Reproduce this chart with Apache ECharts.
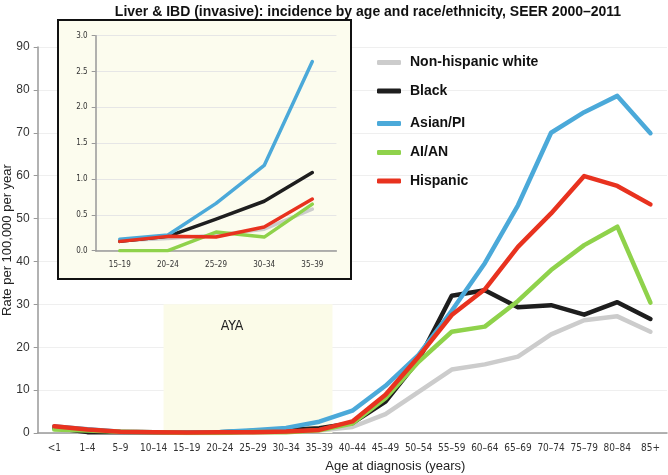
<!DOCTYPE html>
<html><head><meta charset="utf-8">
<script src="https://cdn.jsdelivr.net/npm/echarts@6/dist/echarts.min.js"></script>
<style>html,body{margin:0;padding:0;background:#fff}#c{width:668px;height:475px}</style>
</head><body><div id="c"></div>
<script>
var categories = ['<1','1–4','5–9','10–14','15–19','20–24','25–29','30–34','35–39','40–44','45–49','50–54','55–59','60–64','65–69','70–74','75–79','80–84','85+'];
var seriesNames = ['Non-hispanic white','Black','Asian/PI','AI/AN','Hispanic'];
var white    = [1.0, 0.5, 0.3, 0.2, 0.14, 0.17, 0.22, 0.30, 0.58, 1.4, 4.4, 9.6, 14.8, 16.0, 17.8, 23.0, 26.3, 27.2, 23.6];
var black    = [1.2, 0.2, 0.15, 0.15, 0.13, 0.20, 0.44, 0.69, 1.09, 2.3, 7.3, 17.0, 32.0, 33.3, 29.3, 29.8, 27.6, 30.5, 26.6];
var asian    = [1.5, 0.9, 0.3, 0.2, 0.16, 0.22, 0.66, 1.19, 2.64, 5.2, 11.0, 18.2, 28.5, 39.6, 53.1, 70.0, 74.8, 78.6, 69.9];
var aian     = [0.8, 0.6, 0.3, 0.15, 0.0, 0.0, 0.26, 0.19, 0.65, 2.2, 8.1, 16.6, 23.6, 24.8, 30.8, 38.0, 43.8, 48.1, 30.4];
var hispanic = [1.6, 0.8, 0.3, 0.2, 0.13, 0.20, 0.19, 0.33, 0.72, 2.7, 8.9, 17.8, 27.5, 33.5, 43.4, 51.2, 59.9, 57.6, 53.3];
var mainTicks = [0,10,20,30,40,50,60,70,80,90];
var insetTicks = [0.0,0.5,1.0,1.5,2.0,2.5,3.0];
var ayaStart = 4, ayaEnd = 9; // inset categories: 15–19 .. 35–39
var ayaBand = [3.8, 8.9, 30]; // band extent on band-index scale, and top value
var insetCats = categories.slice(ayaStart, ayaEnd);

var colors = ['#cccccc','#1e1e1e','#4ba9d9','#8fd24b','#e8321f'];
var allData = [white, black, asian, aian, hispanic];
var condensed = '"Liberation Sans Narrow","DejaVu Sans Condensed",Arial,sans-serif';

var series = [];
allData.forEach(function(d, i){
  series.push({name: seriesNames[i], type:'line', xAxisIndex:0, yAxisIndex:0, data:d,
    showSymbol:false, symbol:'none', lineStyle:{color:colors[i], width:4.5, cap:'round', join:'round'},
    itemStyle:{color:colors[i]}, z:3+i, animation:false});
});
allData.forEach(function(d, i){
  series.push({name: seriesNames[i], type:'line', xAxisIndex:1, yAxisIndex:1, data:d.slice(ayaStart, ayaEnd),
    showSymbol:false, symbol:'none', lineStyle:{color:colors[i], width:3.5, cap:'round', join:'round'},
    itemStyle:{color:colors[i]}, z:20+i, animation:false});
});
series.push({type:'line', xAxisIndex:2, yAxisIndex:0, data:[], silent:true,
  markArea:{silent:true, itemStyle:{color:'#fbfbe8'},
    label:{show:true, position:'insideTop', offset:[-16,10], formatter:'AYA', fontFamily:condensed, fontSize:14, color:'#222'},
    data:[[{xAxis:ayaBand[0], yAxis:0},{xAxis:ayaBand[1], yAxis:ayaBand[2]}]]}, z:1});

var legendTops = [63.5, 92, 124.5, 153.5, 182];
var legends = seriesNames.map(function(n, i){
  return {data:[n], left:377, top:legendTops[i]-8, padding:0, icon:'roundRect', itemWidth:24, itemHeight:5,
    textStyle:{fontFamily:'Liberation Sans,Arial,sans-serif', fontWeight:'bold', fontSize:14, color:'#111', padding:[0,0,0,4]},
    selectedMode:false};
});

var chart = echarts.init(document.getElementById('c'), null, {renderer:'canvas'});
chart.setOption({
  animation:false,
  title:{text:'Liver & IBD (invasive): incidence by age and race/ethnicity, SEER 2000–2011', left:363, textAlign:'center', top:0,
    textStyle:{fontFamily:'Liberation Sans,Arial,sans-serif', fontWeight:'bold', fontSize:14, color:'#111'}},
  legend: legends,
  graphic:[{type:'rect', shape:{x:58, y:20, width:293, height:259}, style:{fill:'#fcfcee', stroke:'#111', lineWidth:2}, z:1}],
  grid:[{left:37.7, right:1, top:47, bottom:42, outerBoundsMode:'none', containLabel:false},
        {left:95.7, right:668-336.4, top:35.7, bottom:475-250.7, z:3, outerBoundsMode:'none', containLabel:false}],
  xAxis:[
    {type:'category', gridIndex:0, data:categories, boundaryGap:true,
     axisLine:{lineStyle:{color:'#999', width:1.5}}, axisTick:{lineStyle:{color:'#999'}, length:4},
     axisLabel:{fontFamily:condensed, fontSize:10, color:'#333', margin:10, interval:0},
     name:'Age at diagnosis (years)', nameLocation:'middle', nameGap:27, nameMoveOverlap:false,
     nameTextStyle:{fontFamily:'Liberation Sans,Arial,sans-serif', fontSize:13, color:'#222', padding:[0,0,0,86]}},
    {type:'category', gridIndex:1, data:insetCats, boundaryGap:true, z:3,
     axisLine:{lineStyle:{color:'#999', width:1.5}}, axisTick:{lineStyle:{color:'#999'}, length:4},
     axisLabel:{fontFamily:condensed, fontSize:8, color:'#333', margin:10, interval:0}},
    {type:'value', gridIndex:0, min:0, max:categories.length, show:false}
  ],
  yAxis:[
    {type:'value', gridIndex:0, min:mainTicks[0], max:mainTicks[mainTicks.length-1], interval:10,
     axisLine:{show:true, lineStyle:{color:'#999', width:1.5}}, axisTick:{show:true, lineStyle:{color:'#999'}, length:4},
     axisLabel:{fontFamily:'Liberation Sans,Arial,sans-serif', fontSize:12, color:'#333', margin:8},
     splitLine:{lineStyle:{color:'#efefef', width:1}},
     name:'Rate per 100,000 per year', nameLocation:'middle', nameGap:24, nameRotate:90, nameMoveOverlap:false,
     nameTextStyle:{fontFamily:'Liberation Sans,Arial,sans-serif', fontSize:13, color:'#222'}},
    {type:'value', gridIndex:1, min:insetTicks[0], max:insetTicks[insetTicks.length-1], interval:0.5, z:3,
     axisLine:{show:true, lineStyle:{color:'#999', width:1.5}}, axisTick:{show:true, lineStyle:{color:'#999'}, length:4},
     axisLabel:{fontFamily:condensed, fontSize:8, color:'#333', margin:8, formatter:function(v){return v.toFixed(1);}},
     splitLine:{lineStyle:{color:'#e6e6e6', width:1}}}
  ],
  series: series
});
</script></body></html>
